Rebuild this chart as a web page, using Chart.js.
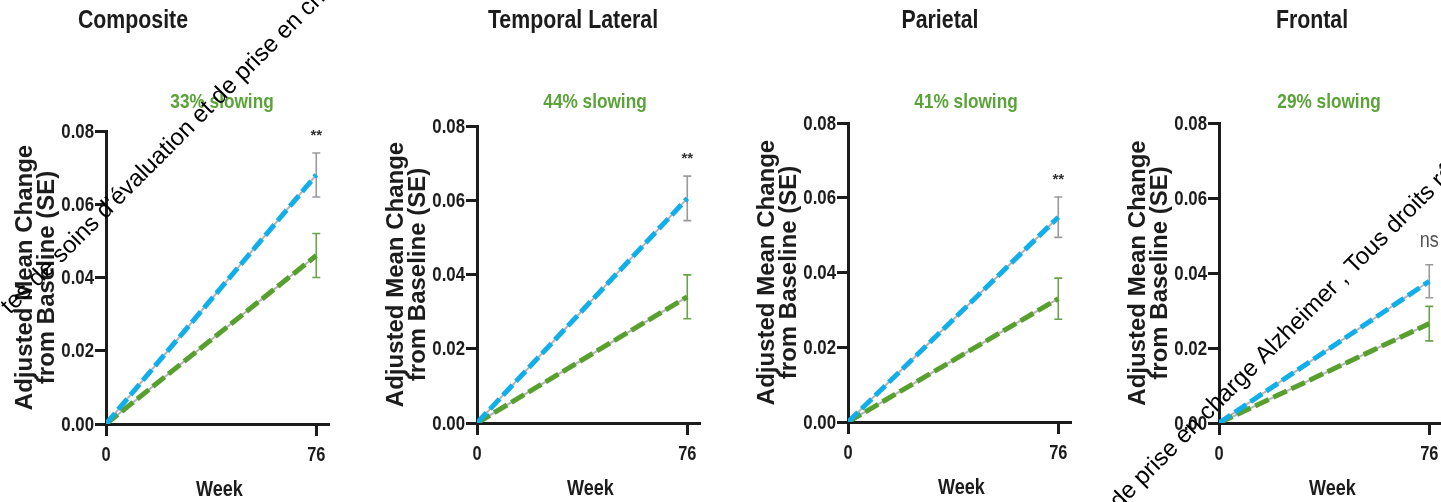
<!DOCTYPE html>
<html><head><meta charset="utf-8">
<script src="https://cdn.jsdelivr.net/npm/chart.js@4/dist/chart.umd.min.js"></script>
<style>
html,body{margin:0;padding:0;background:#fff;width:1441px;height:502px;overflow:hidden;position:relative}
.p{position:absolute;top:0;width:371px;height:502px}
#wm{position:absolute;left:0;top:0;pointer-events:none}
</style></head><body>
<div class="p" style="left:0px"><canvas id="c0" width="371" height="502"></canvas></div>
<div class="p" style="left:371px"><canvas id="c1" width="371" height="502"></canvas></div>
<div class="p" style="left:742px"><canvas id="c2" width="371" height="502"></canvas></div>
<div class="p" style="left:1113px"><canvas id="c3" width="371" height="502"></canvas></div>
<canvas id="wm" width="1441" height="502"></canvas>
<script>
// ---- data ----
const panelTitles = ["Composite", "Temporal Lateral", "Parietal", "Frontal"];
const slowingLabels = ["33% slowing", "44% slowing", "41% slowing", "29% slowing"];
const weeks = [0, 76];
const weekTickLabels = ["0", "76"];
const yTickValues = [0, 0.02, 0.04, 0.06, 0.08];
const yTickLabels = ["0.00", "0.02", "0.04", "0.06", "0.08"];
const baselineChange = 0;
const placeboWeek76 = [0.068, 0.0605, 0.0548, 0.0378];
const placeboSE = [0.006, 0.006, 0.0054, 0.0044];
const treatedWeek76 = [0.046, 0.034, 0.033, 0.0265];
const treatedSE = [0.006, 0.0059, 0.0055, 0.0046];
const significance = ["**", "**", "**", "ns"];
const yTitleLines = ["Adjusted Mean Change", "from Baseline (SE)"];
const xTitle = "Week";
const watermarkText = "tes de soins d\u2019\u00e9valuation et de prise en charge Alzheimer , Tous droits r\u00e9serv\u00e9s";
const watermarkText2 = "de prise en charge Alzheimer , Tous droits r\u00e9serv\u00e9s";

// ---- style / layout ----
const SANS = "'Liberation Sans',Arial,sans-serif";
const INK = '#1c1c1c';
const BLUE = '#12aeea';
const GREEN = '#58a02e';
const NARROW_K = 0.82;
const padTop = [131, 126, 123, 123];
const xAxisH = [78, 79, 80, 79];
const titleDx = [27, 96, 92, 93];
const slowDx = [116, 118, 118, 110];

function narrowText(ctx, text, x, y, size, weight, color, align) {
  ctx.save();
  ctx.translate(x, y);
  ctx.scale(NARROW_K, 1);
  ctx.font = `${weight} ${size}px ${SANS}`;
  ctx.textAlign = align; ctx.textBaseline = 'middle';
  ctx.fillStyle = color;
  ctx.fillText(text, 0, 0);
  ctx.restore();
}

const decor = {
  id: 'decor',
  beforeDatasetsDraw(chart) {
    const i = chart.options.plugins.decor.idx;
    const {ctx, scales: {x, y}} = chart;
    const xp = x.getPixelForValue(weeks[1]);
    const bars = [[placeboWeek76[i], placeboSE[i], '#9a9a9a'], [treatedWeek76[i], treatedSE[i], '#6aa24a']];
    ctx.save();
    bars.forEach(([m, se, c]) => {
      const t = y.getPixelForValue(m + se), b = y.getPixelForValue(m - se);
      ctx.strokeStyle = c; ctx.lineWidth = 1.6;
      ctx.beginPath();
      ctx.moveTo(xp, t); ctx.lineTo(xp, b);
      ctx.moveTo(xp - 4, t); ctx.lineTo(xp + 4, t);
      ctx.moveTo(xp - 4, b); ctx.lineTo(xp + 4, b);
      ctx.stroke();
    });
    ctx.restore();
  },
  afterDraw(chart) {
    const i = chart.options.plugins.decor.idx;
    const {ctx, chartArea, scales: {x, y}} = chart;
    // titles
    narrowText(ctx, panelTitles[i], chartArea.left + titleDx[i], 21, 26, 'bold', INK, 'center');
    narrowText(ctx, slowingLabels[i], chartArea.left + slowDx[i], 102, 21, 'bold', '#5aa338', 'center');
    // y tick labels
    y.ticks.forEach((t, k) => {
      narrowText(ctx, yTickLabels[yTickValues.indexOf(t.value)], x.left - 12, y.getPixelForValue(t.value) + 1, 20.5, 'bold', INK, 'right');
    });
    // x tick labels + title
    const axisY = y.getPixelForValue(0);
    x.ticks.forEach(t => {
      narrowText(ctx, weekTickLabels[weeks.indexOf(t.value)], x.getPixelForValue(t.value), axisY + 31, 20, 'bold', INK, 'center');
    });
    narrowText(ctx, xTitle, (x.left + x.right) / 2 + 2, axisY + 66, 22, 'bold', INK, 'center');
    // significance
    const xp = x.getPixelForValue(weeks[1]);
    const top = y.getPixelForValue(placeboWeek76[i] + placeboSE[i]);
    if (significance[i] === 'ns') {
      narrowText(ctx, significance[i], xp, top - 24, 22, 'normal', '#555', 'center');
    } else {
      ctx.save();
      ctx.fillStyle = '#333'; ctx.textAlign = 'center'; ctx.textBaseline = 'middle';
      ctx.font = `bold 15px ${SANS}`;
      ctx.fillText(significance[i], xp, top - 17);
      ctx.restore();
    }
  }
};

function makeChart(i) {
  const ds = (name, end, color, dash, order) => ({
    label: name,
    data: [{x: weeks[0], y: baselineChange}, {x: weeks[1], y: end}],
    borderColor: color, borderWidth: 5, borderDash: dash, borderCapStyle: 'butt',
    pointRadius: 0, fill: false, tension: 0, order
  });
  const under = (name, end, order) => ({
    label: name + ' (line)',
    data: [{x: weeks[0], y: baselineChange}, {x: weeks[1], y: end}],
    borderColor: '#b4b4b4', borderWidth: 2, pointRadius: 0, fill: false, order
  });
  new Chart(document.getElementById('c' + i), {
    type: 'line',
    data: {datasets: [
      ds('Placebo', placeboWeek76[i], BLUE, [14, 5], 0),
      ds('Treatment', treatedWeek76[i], GREEN, [15, 5], 1),
      under('Placebo', placeboWeek76[i], 2),
      under('Treatment', treatedWeek76[i], 3)
    ]},
    options: {
      responsive: false, animation: false, devicePixelRatio: 1,
      layout: {padding: {top: padTop[i], left: 0, right: 42, bottom: 0}},
      plugins: {legend: {display: false}, tooltip: {enabled: false}, decor: {idx: i}},
      scales: {
        x: {
          type: 'linear', min: 0, max: 80.6,
          afterBuildTicks: s => { s.ticks = weeks.map(v => ({value: v})); },
          afterFit: s => { s.height = xAxisH[i]; },
          grid: {drawOnChartArea: false, drawTicks: true, tickLength: 12, tickWidth: 3, tickColor: INK},
          border: {display: true, color: INK, width: 3},
          ticks: {autoSkip: false, maxRotation: 0, padding: 3, color: 'rgba(0,0,0,0)',
            font: {family: SANS, size: 16, weight: 'bold'},
            callback: (v) => weekTickLabels[weeks.indexOf(v)]},
          title: {display: false, text: xTitle}
        },
        y: {
          min: 0, max: 0.08,
          afterBuildTicks: s => { s.ticks = yTickValues.map(v => ({value: v})); },
          afterFit: s => { s.width = 106; },
          grid: {drawOnChartArea: false, drawTicks: true, tickLength: 11, tickWidth: 3, tickColor: INK},
          border: {display: true, color: INK, width: 3},
          ticks: {padding: 1, color: 'rgba(0,0,0,0)', font: {family: SANS, size: 16, weight: 'bold'},
            callback: (v) => yTickLabels[yTickValues.indexOf(v)]},
          title: {display: true, text: yTitleLines, color: INK, padding: {top: 14, bottom: 0},
            font: {family: SANS, size: 24, weight: 'bold', lineHeight: 0.92}}
        }
      }
    },
    plugins: [decor]
  });
}
[0, 1, 2, 3].forEach(makeChart);

// watermark overlay text
(function () {
  const c = document.getElementById('wm').getContext('2d');
  c.fillStyle = '#000';
  c.font = `24px ${SANS}`;
  c.textBaseline = 'alphabetic';
  [[watermarkText, 10, 315], [watermarkText2, 1119, 510]].forEach(([t, px, py]) => {
    c.save(); c.translate(px, py); c.rotate(-Math.PI / 4); c.fillText(t, 0, 0); c.restore();
  });
})();
</script>
</body></html>
